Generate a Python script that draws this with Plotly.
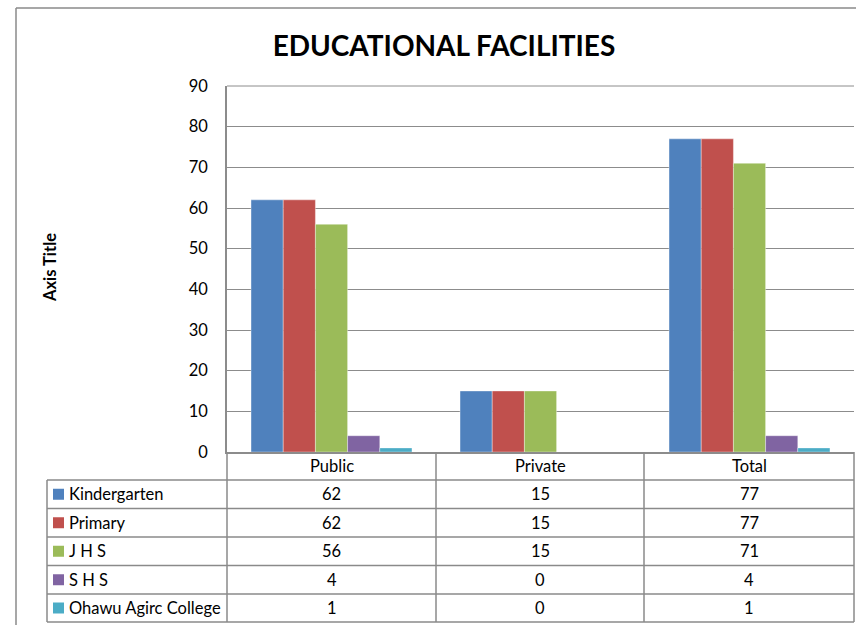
import plotly.graph_objects as go

categories = ["Public", "Private", "Total"]
series_names = ["Kindergarten", "Primary", "J H S", "S H S", "Ohawu Agirc College"]
kindergarten = [62, 15, 77]
primary = [62, 15, 77]
jhs = [56, 15, 71]
shs = [4, 0, 4]
ohawu = [1, 0, 1]
series_values = [kindergarten, primary, jhs, shs, ohawu]
colors = ["#4F81BD", "#C0504D", "#9BBB59", "#8064A2", "#4BACC6"]

W, H = 856, 625
L, R, T, B = 227, 854, 86, 452  # plot area in pixels
FONT = "Lato, Carlito, Calibri, sans-serif"
GRID = "#8c8c8c"


def px(x):
    return (x - L) / (R - L)


def py(y):
    return (B - y) / (B - T)


fig = go.Figure()
for name, vals, col in zip(series_names, series_values, colors):
    fig.add_trace(go.Bar(x=categories, y=vals, name=name, marker=dict(color=col, line=dict(width=0.6, color="rgba(255,255,255,0.6)"))))

shapes = []
annotations = []

# outer chart border (left and top)
shapes.append(dict(type="line", xref="paper", yref="paper", x0=px(16), x1=px(856), y0=py(8), y1=py(8), line=dict(color="#8a8a8a", width=1.5)))
shapes.append(dict(type="line", xref="paper", yref="paper", x0=px(16), x1=px(16), y0=py(8), y1=py(625), line=dict(color="#8a8a8a", width=1.5)))
# top gridline of plot area
shapes.append(dict(type="line", xref="paper", yref="paper", x0=0, x1=1, y0=1, y1=1, line=dict(color=GRID, width=1)))

# data table
row_edges = [452, 480, 508.5, 537, 565.5, 594, 622]
col_edges = [L, 436, 644, R]
tl = 47
line_style = dict(color="#8a8a8a", width=1.5)
for y in row_edges[1:]:
    shapes.append(dict(type="line", xref="paper", yref="paper", x0=px(tl), x1=px(R), y0=py(y), y1=py(y), line=line_style))
shapes.append(dict(type="line", xref="paper", yref="paper", x0=px(tl), x1=px(tl), y0=py(row_edges[1]), y1=py(row_edges[-1]), line=line_style))
for x in col_edges:
    shapes.append(dict(type="line", xref="paper", yref="paper", x0=px(x), x1=px(x), y0=py(row_edges[0]), y1=py(row_edges[-1]), line=line_style))

cell_font = dict(family=FONT, size=16.5, color="#000000")
for j, cat in enumerate(categories):
    cx = (col_edges[j] + col_edges[j + 1]) / 2
    cy = (row_edges[0] + row_edges[1]) / 2
    annotations.append(dict(xref="paper", yref="paper", x=px(cx), y=py(cy), text=cat, showarrow=False, font=cell_font, xanchor="center", yanchor="middle"))
for i, (name, vals, col) in enumerate(zip(series_names, series_values, colors)):
    cy = (row_edges[i + 1] + row_edges[i + 2]) / 2
    shapes.append(dict(type="rect", xref="paper", yref="paper", x0=px(53), x1=px(64), y0=py(cy - 5.5), y1=py(cy + 5.5), fillcolor=col, line=dict(width=0)))
    annotations.append(dict(xref="paper", yref="paper", x=px(67), y=py(cy), text=name, showarrow=False, font=cell_font, xanchor="left", yanchor="middle"))
    for j, v in enumerate(vals):
        cx = (col_edges[j] + col_edges[j + 1]) / 2
        annotations.append(dict(xref="paper", yref="paper", x=px(cx), y=py(cy), text=str(v), showarrow=False, font=cell_font, xanchor="center", yanchor="middle"))

# axis title
annotations.append(dict(xref="paper", yref="paper", x=px(50), y=py(268), text="<b>Axis Title</b>", textangle=-90, showarrow=False, font=dict(family=FONT, size=16.5, color="#000000"), xanchor="center", yanchor="middle"))

fig.update_layout(
    width=W, height=H,
    margin=dict(l=L, r=W - R, t=T, b=H - B, pad=0),
    paper_bgcolor="white", plot_bgcolor="white",
    barmode="group", bargap=0.23, bargroupgap=0,
    showlegend=False,
    title=dict(text="<b>EDUCATIONAL FACILITIES</b>", xref="container", x=444 / W, xanchor="center", yref="container", y=1 - 46 / H, yanchor="middle", font=dict(family=FONT, size=28, color="#000000")),
    font=dict(family=FONT, color="#000000"),
    shapes=shapes,
    annotations=annotations,
)
fig.update_yaxes(range=[0, 90], dtick=10, showgrid=True, gridcolor=GRID, gridwidth=1, showline=True, linecolor=GRID, linewidth=1.5, ticks="", tickfont=dict(family=FONT, size=16.5, color="#000000"), ticklabelstandoff=14, zeroline=False)
fig.update_xaxes(showticklabels=False, showline=True, linecolor=GRID, linewidth=1.5, ticks="", showgrid=False)

fig.write_html("out.html")
